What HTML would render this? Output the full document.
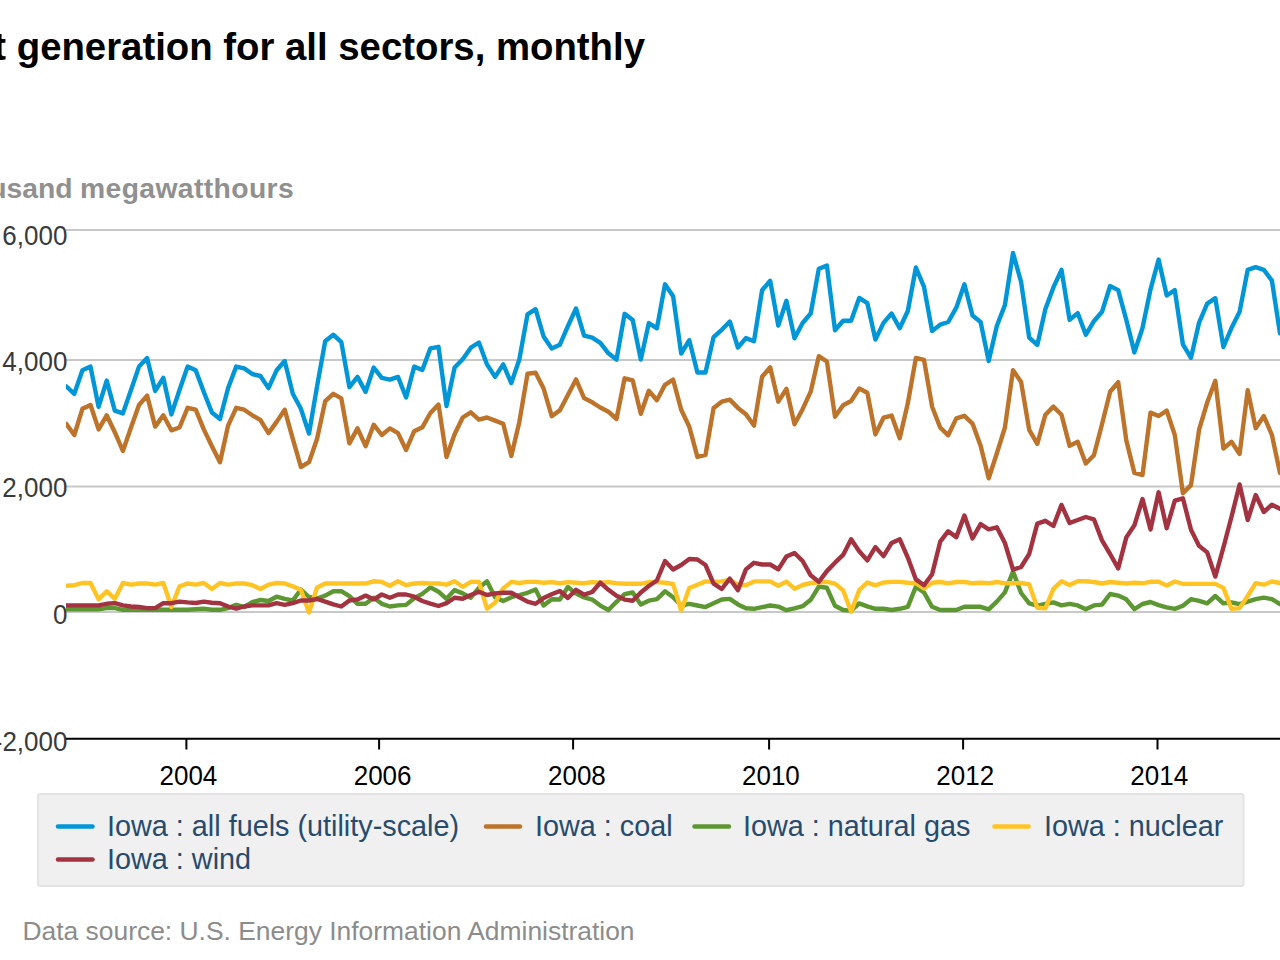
<!DOCTYPE html>
<html><head><meta charset="utf-8">
<style>
html,body{margin:0;padding:0;background:#fff;width:1280px;height:960px;overflow:hidden}
svg{display:block}
text{font-family:"Liberation Sans",sans-serif}
</style></head><body>
<svg width="1280" height="960" viewBox="0 0 1280 960">
<rect x="0" y="0" width="1280" height="960" fill="#fff"/>
<text id="title" x="645" y="59.8" text-anchor="end" font-size="38.35" font-weight="bold" fill="#000">Net generation for all sectors, monthly</text>
<g id="ylab" font-size="28.3" font-weight="bold" fill="#909090"><text x="72.5" y="197.5" text-anchor="end">thousand</text><text x="80" y="197.5" textLength="213.7" lengthAdjust="spacing">megawatthours</text></g>
<g id="grid" stroke="#c8c8c8" stroke-width="2">
<line x1="66" y1="230" x2="1280" y2="230"/>
<line x1="66" y1="360" x2="1280" y2="360"/>
<line x1="66" y1="486.6" x2="1280" y2="486.6"/>
<line x1="66" y1="612" x2="1280" y2="612"/>
</g>
<g id="yticks" font-size="26" fill="#3a3a3a" text-anchor="end">
<text transform="translate(67.4,244.6) scale(1,1.07)">6,000</text>
<text transform="translate(67.4,371.2) scale(1,1.07)">4,000</text>
<text transform="translate(67.4,496.7) scale(1,1.07)">2,000</text>
<text transform="translate(67.4,623.7) scale(1,1.07)">0</text>
<text transform="translate(67.4,750.6) scale(1,1.07)">-2,000</text>
</g>
<line x1="66" y1="738.75" x2="1280" y2="738.75" stroke="#000" stroke-width="2"/>
<g stroke="#000" stroke-width="2">
<line x1="186.4" y1="738" x2="186.4" y2="749.5"/>
<line x1="379.1" y1="738" x2="379.1" y2="749.5"/>
<line x1="573.1" y1="738" x2="573.1" y2="749.5"/>
<line x1="769.1" y1="738" x2="769.1" y2="749.5"/>
<line x1="963.1" y1="738" x2="963.1" y2="749.5"/>
<line x1="1157.5" y1="738" x2="1157.5" y2="749.5"/>
</g>
<g id="xticks" font-size="26" fill="#000" text-anchor="middle">
<text transform="translate(188.4,785) scale(1,1.07)">2004</text>
<text transform="translate(382.6,785) scale(1,1.07)">2006</text>
<text transform="translate(576.9,785) scale(1,1.07)">2008</text>
<text transform="translate(770.9,785) scale(1,1.07)">2010</text>
<text transform="translate(965.2,785) scale(1,1.07)">2012</text>
<text transform="translate(1159.2,785) scale(1,1.07)">2014</text>
</g>
<rect id="legend" x="38.1" y="794.1" width="1205.4" height="91.9" rx="2" fill="#f0f0f0" stroke="#e3e3e3" stroke-width="2"/>
<g stroke-width="4.5" stroke-linecap="round">
<line x1="58" y1="826.5" x2="92.5" y2="826.5" stroke="#0096d7"/>
<line x1="486" y1="826.5" x2="520" y2="826.5" stroke="#bd732a"/>
<line x1="694.5" y1="826.5" x2="729" y2="826.5" stroke="#5d9732"/>
<line x1="994.5" y1="826.5" x2="1028.5" y2="826.5" stroke="#ffc424"/>
<line x1="58" y1="859.4" x2="92.5" y2="859.4" stroke="#a33340"/>
</g>
<g id="legtext" font-size="28.8" fill="#274b6d">
<text x="107" y="836.25">Iowa : all fuels (utility-scale)</text>
<text x="535" y="836.25">Iowa : coal</text>
<text x="743" y="836.25">Iowa : natural gas</text>
<text x="1044" y="836.25">Iowa : nuclear</text>
<text x="107" y="869.4">Iowa : wind</text>
</g>
<text id="src" x="22.5" y="940" font-size="26.42" fill="#8c8c8c">Data source: U.S. Energy Information Administration</text>
<defs><clipPath id="plot"><rect x="66" y="100" width="1214" height="639"/></clipPath></defs>
<g id="series" fill="none" stroke-width="4.4" stroke-linejoin="round" stroke-linecap="round" clip-path="url(#plot)">
<path d="M66.2 386.3 L74.3 393.8 L82.4 370.3 L90.5 366.6 L98.6 406.9 L106.7 380.6 L114.8 410.6 L122.9 413.4 L131.0 390.0 L139.0 366.6 L147.1 358.1 L155.2 390.9 L163.3 377.8 L171.4 414.4 L179.5 390.0 L187.6 366.6 L195.7 370.3 L203.8 391.9 L211.9 412.5 L220.0 419.0 L228.1 388.0 L236.2 366.6 L244.2 368.4 L252.3 374.0 L260.4 376.0 L268.5 388.1 L276.6 370.3 L284.7 361.0 L292.8 393.8 L300.9 408.8 L309.0 433.6 L317.1 386.2 L325.2 341.2 L333.3 334.7 L341.3 342.2 L349.4 387.2 L357.5 376.9 L365.6 391.9 L373.7 367.5 L381.8 377.8 L389.9 379.7 L398.0 376.9 L406.1 397.5 L414.2 366.6 L422.3 370.0 L430.4 348.3 L438.5 346.8 L446.5 406.0 L454.6 367.5 L462.7 359.2 L470.8 347.7 L478.9 342.5 L487.0 364.4 L495.1 376.9 L503.2 364.4 L511.3 383.1 L519.4 359.2 L527.5 314.4 L535.6 309.2 L543.6 336.5 L551.7 348.4 L559.8 344.8 L567.9 326.2 L576.0 308.5 L584.1 335.6 L592.2 337.7 L600.3 342.9 L608.4 353.3 L616.5 359.6 L624.6 313.8 L632.7 320.0 L640.8 359.6 L648.8 323.1 L656.9 328.3 L665.0 284.3 L673.1 296.2 L681.2 353.5 L689.3 340.2 L697.4 372.5 L705.5 372.5 L713.6 337.1 L721.7 329.8 L729.8 321.5 L737.9 347.5 L745.9 338.1 L754.0 341.2 L762.1 290.2 L770.2 280.8 L778.3 325.6 L786.4 300.8 L794.5 338.3 L802.6 323.0 L810.7 313.5 L818.8 268.8 L826.9 265.6 L835.0 330.2 L843.1 320.8 L851.1 320.8 L859.2 297.9 L867.3 303.1 L875.4 339.6 L883.5 322.9 L891.6 313.5 L899.7 328.3 L907.8 311.0 L915.9 267.5 L924.0 286.9 L932.1 331.1 L940.2 324.6 L948.2 322.0 L956.3 307.7 L964.4 284.3 L972.5 315.5 L980.6 322.0 L988.7 361.1 L996.8 326.0 L1004.9 305.1 L1013.0 253.0 L1021.1 282.0 L1029.2 337.6 L1037.3 344.9 L1045.4 309.0 L1053.4 287.4 L1061.5 269.8 L1069.6 319.9 L1077.7 313.1 L1085.8 334.8 L1093.9 321.2 L1102.0 311.8 L1110.1 286.0 L1118.2 290.1 L1126.3 319.9 L1134.4 352.4 L1142.5 328.0 L1150.5 289.4 L1158.6 259.6 L1166.7 295.5 L1174.8 290.1 L1182.9 344.3 L1191.0 357.8 L1199.1 322.6 L1207.2 303.6 L1215.3 298.2 L1223.4 347.0 L1231.5 328.0 L1239.6 311.8 L1247.7 269.8 L1255.7 267.1 L1263.8 269.8 L1271.9 280.6 L1280.0 333.4" stroke="#0096d7"/>
<path d="M66.2 423.8 L74.3 435.0 L82.4 408.8 L90.5 405.0 L98.6 429.4 L106.7 415.3 L114.8 432.2 L122.9 451.0 L131.0 427.5 L139.0 405.0 L147.1 395.6 L155.2 426.6 L163.3 415.3 L171.4 430.3 L179.5 427.5 L187.6 407.8 L195.7 409.7 L203.8 429.4 L211.9 446.2 L220.0 462.2 L228.1 425.6 L236.2 407.8 L244.2 409.7 L252.3 415.3 L260.4 420.0 L268.5 433.1 L276.6 421.9 L284.7 409.7 L292.8 438.8 L300.9 467.0 L309.0 462.2 L317.1 438.8 L325.2 401.2 L333.3 393.8 L341.3 398.4 L349.4 443.4 L357.5 428.4 L365.6 446.2 L373.7 424.7 L381.8 435.0 L389.9 428.4 L398.0 433.1 L406.1 450.0 L414.2 431.2 L422.3 427.3 L430.4 413.0 L438.5 404.5 L446.5 457.0 L454.6 434.2 L462.7 417.5 L470.8 412.3 L478.9 419.6 L487.0 417.5 L495.1 420.6 L503.2 423.8 L511.3 456.0 L519.4 421.7 L527.5 373.8 L535.6 372.7 L543.6 388.5 L551.7 416.2 L559.8 410.4 L567.9 395.0 L576.0 379.4 L584.1 398.1 L592.2 402.3 L600.3 407.5 L608.4 411.7 L616.5 419.0 L624.6 378.3 L632.7 380.4 L640.8 413.8 L648.8 390.8 L656.9 400.2 L665.0 384.8 L673.1 379.6 L681.2 409.8 L689.3 426.7 L697.4 456.9 L705.5 454.8 L713.6 407.9 L721.7 401.7 L729.8 399.6 L737.9 407.9 L745.9 414.2 L754.0 425.6 L762.1 376.7 L770.2 367.3 L778.3 401.7 L786.4 388.8 L794.5 424.3 L802.6 409.2 L810.7 391.7 L818.8 356.2 L826.9 361.5 L835.0 416.7 L843.1 405.2 L851.1 401.0 L859.2 388.5 L867.3 392.7 L875.4 434.4 L883.5 417.7 L891.6 415.6 L899.7 438.2 L907.8 403.3 L915.9 357.9 L924.0 359.8 L932.1 406.7 L940.2 427.5 L948.2 435.3 L956.3 418.4 L964.4 415.8 L972.5 423.6 L980.6 445.7 L988.7 478.3 L996.8 453.5 L1004.9 427.5 L1013.0 370.2 L1021.1 382.0 L1029.2 429.8 L1037.3 443.8 L1045.4 414.7 L1053.4 406.6 L1061.5 414.7 L1069.6 445.9 L1077.7 441.8 L1085.8 463.5 L1093.9 455.3 L1102.0 424.2 L1110.1 391.7 L1118.2 382.2 L1126.3 440.4 L1134.4 472.9 L1142.5 475.0 L1150.5 412.6 L1158.6 416.0 L1166.7 410.6 L1174.8 435.0 L1182.9 493.2 L1191.0 485.1 L1199.1 429.6 L1207.2 402.5 L1215.3 380.8 L1223.4 448.6 L1231.5 441.8 L1239.6 454.0 L1247.7 390.3 L1255.7 428.2 L1263.8 416.0 L1271.9 435.0 L1280.0 473.0" stroke="#bd732a"/>
<path d="M66.2 609.2 L74.3 609.2 L82.4 609.2 L90.5 609.2 L98.6 609.2 L106.7 608.1 L114.8 608.1 L122.9 609.8 L131.0 609.8 L139.0 609.8 L147.1 609.8 L155.2 609.5 L163.3 609.8 L171.4 609.8 L179.5 609.8 L187.6 609.8 L195.7 609.2 L203.8 608.7 L211.9 609.8 L220.0 609.8 L228.1 608.1 L236.2 604.9 L244.2 607.0 L252.3 602.1 L260.4 600.0 L268.5 601.0 L276.6 596.7 L284.7 598.8 L292.8 600.5 L300.9 589.5 L309.0 597.0 L317.1 598.5 L325.2 595.6 L333.3 591.2 L341.3 591.2 L349.4 596.1 L357.5 603.8 L365.6 603.8 L373.7 597.7 L381.8 603.8 L389.9 606.5 L398.0 605.4 L406.1 604.9 L414.2 598.3 L422.3 593.9 L430.4 587.4 L438.5 591.7 L446.5 598.8 L454.6 590.1 L462.7 593.4 L470.8 597.7 L478.9 587.9 L487.0 581.3 L495.1 597.2 L503.2 601.0 L511.3 597.2 L519.4 595.0 L527.5 592.8 L535.6 589.5 L543.6 605.5 L551.7 599.2 L559.8 599.5 L567.9 587.0 L576.0 593.6 L584.1 597.4 L592.2 599.6 L600.3 605.6 L608.4 610.0 L616.5 601.8 L624.6 594.2 L632.7 592.5 L640.8 604.6 L648.8 600.7 L656.9 599.1 L665.0 591.3 L673.1 597.3 L681.2 605.5 L689.3 603.9 L697.4 605.5 L705.5 607.1 L713.6 603.3 L721.7 599.5 L729.8 598.9 L737.9 604.4 L745.9 608.2 L754.0 608.8 L762.1 607.1 L770.2 605.5 L778.3 606.6 L786.4 610.2 L794.5 608.3 L802.6 606.2 L810.7 599.8 L818.8 586.6 L826.9 587.8 L835.0 605.8 L843.1 610.0 L851.1 610.6 L859.2 603.4 L867.3 606.4 L875.4 608.8 L883.5 608.8 L891.6 610.0 L899.7 608.8 L907.8 606.9 L915.9 586.6 L924.0 592.4 L932.1 606.8 L940.2 610.0 L948.2 610.0 L956.3 610.0 L964.4 606.8 L972.5 606.8 L980.6 606.8 L988.7 609.4 L996.8 601.6 L1004.9 592.4 L1013.0 571.6 L1021.1 593.0 L1029.2 603.3 L1037.3 605.7 L1045.4 603.9 L1053.4 602.4 L1061.5 605.4 L1069.6 603.9 L1077.7 605.4 L1085.8 609.2 L1093.9 605.4 L1102.0 604.6 L1110.1 594.0 L1118.2 595.6 L1126.3 599.3 L1134.4 609.2 L1142.5 604.0 L1150.5 602.0 L1158.6 605.1 L1166.7 607.3 L1174.8 608.9 L1182.9 605.7 L1191.0 599.2 L1199.1 600.9 L1207.2 603.3 L1215.3 596.0 L1223.4 603.3 L1231.5 602.5 L1239.6 604.1 L1247.7 601.7 L1255.7 599.2 L1263.8 597.6 L1271.9 599.2 L1280.0 604.1" stroke="#5d9732"/>
<path d="M66.2 585.7 L74.3 585.2 L82.4 583.0 L90.5 583.0 L98.6 599.4 L106.7 591.2 L114.8 598.8 L122.9 583.0 L131.0 584.6 L139.0 583.5 L147.1 583.5 L155.2 584.6 L163.3 583.0 L171.4 607.0 L179.5 586.3 L187.6 583.5 L195.7 584.6 L203.8 583.0 L211.9 589.0 L220.0 583.0 L228.1 584.6 L236.2 583.5 L244.2 583.5 L252.3 585.2 L260.4 589.0 L268.5 584.6 L276.6 583.0 L284.7 583.5 L292.8 586.3 L300.9 590.0 L309.0 612.5 L317.1 587.4 L325.2 583.5 L333.3 583.5 L341.3 583.5 L349.4 583.5 L357.5 583.5 L365.6 583.5 L373.7 581.3 L381.8 581.9 L389.9 585.7 L398.0 581.3 L406.1 585.2 L414.2 583.5 L422.3 583.0 L430.4 583.5 L438.5 583.5 L446.5 584.6 L454.6 581.3 L462.7 586.8 L470.8 581.9 L478.9 581.9 L487.0 608.7 L495.1 602.7 L503.2 588.4 L511.3 581.9 L519.4 583.0 L527.5 581.9 L535.6 581.9 L543.6 582.7 L551.7 582.1 L559.8 583.2 L567.9 582.1 L576.0 582.7 L584.1 583.2 L592.2 582.1 L600.3 582.7 L608.4 582.1 L616.5 583.2 L624.6 583.8 L632.7 583.8 L640.8 583.8 L648.8 582.1 L656.9 582.1 L665.0 582.8 L673.1 584.0 L681.2 610.5 L689.3 588.0 L697.4 584.7 L705.5 581.4 L713.6 582.0 L721.7 581.4 L729.8 579.8 L737.9 584.7 L745.9 585.2 L754.0 581.4 L762.1 581.4 L770.2 581.4 L778.3 585.8 L786.4 581.6 L794.5 588.7 L802.6 585.0 L810.7 583.0 L818.8 582.5 L826.9 581.9 L835.0 583.6 L843.1 590.2 L851.1 611.8 L859.2 590.2 L867.3 582.5 L875.4 585.4 L883.5 582.5 L891.6 581.9 L899.7 581.9 L907.8 582.8 L915.9 583.2 L924.0 588.5 L932.1 582.7 L940.2 582.0 L948.2 583.3 L956.3 582.0 L964.4 582.0 L972.5 583.3 L980.6 582.7 L988.7 583.3 L996.8 582.0 L1004.9 583.3 L1013.0 583.3 L1021.1 583.0 L1029.2 584.4 L1037.3 607.8 L1045.4 608.4 L1053.4 588.8 L1061.5 581.2 L1069.6 585.0 L1077.7 581.2 L1085.8 581.2 L1093.9 582.0 L1102.0 583.5 L1110.1 582.0 L1118.2 582.7 L1126.3 583.5 L1134.4 582.7 L1142.5 583.3 L1150.5 581.8 L1158.6 581.8 L1166.7 585.5 L1174.8 581.5 L1182.9 583.9 L1191.0 583.9 L1199.1 583.9 L1207.2 583.9 L1215.3 583.9 L1223.4 587.9 L1231.5 608.9 L1239.6 608.1 L1247.7 596.0 L1255.7 583.1 L1263.8 584.7 L1271.9 581.5 L1280.0 583.1" stroke="#ffc424"/>
<path d="M66.2 605.4 L74.3 605.4 L82.4 605.4 L90.5 605.4 L98.6 605.4 L106.7 603.8 L114.8 603.2 L122.9 605.4 L131.0 606.5 L139.0 607.0 L147.1 608.1 L155.2 608.1 L163.3 603.2 L171.4 603.2 L179.5 601.6 L187.6 602.4 L195.7 603.0 L203.8 601.6 L211.9 602.7 L220.0 603.2 L228.1 606.5 L236.2 608.7 L244.2 606.5 L252.3 605.4 L260.4 605.4 L268.5 605.4 L276.6 603.2 L284.7 604.9 L292.8 603.2 L300.9 600.5 L309.0 600.5 L317.1 599.0 L325.2 601.6 L333.3 604.3 L341.3 606.5 L349.4 600.5 L357.5 599.4 L365.6 595.6 L373.7 599.4 L381.8 594.5 L389.9 597.7 L398.0 594.5 L406.1 594.5 L414.2 596.7 L422.3 601.0 L430.4 603.7 L438.5 606.0 L446.5 603.2 L454.6 597.7 L462.7 598.8 L470.8 595.0 L478.9 591.7 L487.0 595.0 L495.1 593.4 L503.2 592.8 L511.3 592.8 L519.4 597.2 L527.5 601.6 L535.6 603.8 L543.6 598.0 L551.7 594.3 L559.8 591.0 L567.9 598.0 L576.0 589.8 L584.1 594.7 L592.2 592.0 L600.3 582.7 L608.4 589.8 L616.5 595.8 L624.6 599.6 L632.7 600.7 L640.8 592.5 L648.8 586.0 L656.9 580.5 L665.0 561.0 L673.1 569.5 L681.2 565.0 L689.3 559.0 L697.4 559.5 L705.5 565.0 L713.6 583.6 L721.7 589.0 L729.8 578.7 L737.9 590.2 L745.9 569.4 L754.0 562.8 L762.1 564.5 L770.2 564.5 L778.3 569.4 L786.4 556.5 L794.5 553.0 L802.6 561.0 L810.7 575.3 L818.8 581.9 L826.9 571.1 L835.0 562.7 L843.1 554.9 L851.1 539.3 L859.2 551.3 L867.3 560.3 L875.4 547.1 L883.5 556.1 L891.6 542.9 L899.7 539.2 L907.8 557.6 L915.9 579.4 L924.0 585.3 L932.1 574.2 L940.2 541.7 L948.2 531.2 L956.3 537.1 L964.4 515.6 L972.5 538.4 L980.6 524.1 L988.7 529.3 L996.8 527.3 L1004.9 543.0 L1013.0 569.7 L1021.1 567.0 L1029.2 554.0 L1037.3 523.6 L1045.4 520.8 L1053.4 526.0 L1061.5 504.9 L1069.6 523.0 L1077.7 520.0 L1085.8 517.0 L1093.9 519.3 L1102.0 540.4 L1110.1 554.0 L1118.2 568.4 L1126.3 537.4 L1134.4 525.3 L1142.5 499.0 L1150.5 529.5 L1158.6 492.3 L1166.7 528.2 L1174.8 500.7 L1182.9 498.3 L1191.0 529.8 L1199.1 545.9 L1207.2 552.4 L1215.3 576.6 L1223.4 547.5 L1231.5 516.8 L1239.6 484.5 L1247.7 520.0 L1255.7 495.0 L1263.8 512.0 L1271.9 504.7 L1280.0 508.8" stroke="#a33340"/>
</g>
</svg>
</body></html>
